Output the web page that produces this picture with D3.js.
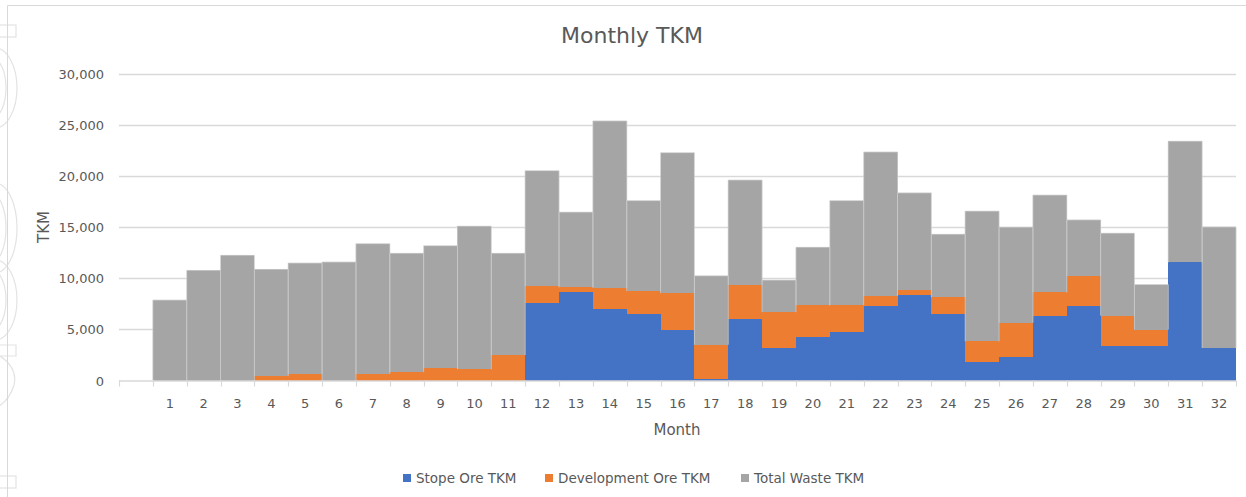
<!DOCTYPE html>
<html>
<head>
<meta charset="utf-8">
<script src="https://cdn.jsdelivr.net/npm/d3@7"></script>
<style>
  html, body { margin: 0; padding: 0; background: #fff; }
  #graphicContainer { width: 1246px; height: 497px; }
  text { font-family: "DejaVu Sans", "Open Sans", sans-serif; fill: #595959; }
</style>
</head>
<body>
<div id="graphicContainer"></div>
<script>
// categories (leading blank slot is empty in the source chart)
const months = ["", "1", "2", "3", "4", "5", "6", "7", "8", "9", "10", "11", "12", "13", "14", "15", "16",
  "17", "18", "19", "20", "21", "22", "23", "24", "25", "26", "27", "28", "29", "30", "31", "32"]

const stopeOre = [0, 0, 0, 0, 0, 0, 0, 0, 0, 0, 0, 0, 7550, 8600, 6960, 6540, 4900,
  100, 5980, 3170, 4280, 4740, 7290, 8400, 6500, 1770, 2260, 6340, 7290, 3330, 3330, 11540, 3170]

const devOre = [0, 0, 0, 0, 430, 650, 0, 650, 820, 1180, 1080, 2480, 1670, 490, 2120, 2190, 3630,
  3400, 3400, 3500, 3070, 2610, 950, 420, 1640, 2050, 3390, 2260, 2940, 3010, 1640, 0, 0]

const totalWaste = [0, 7850, 10750, 12220, 10420, 10820, 11570, 12720, 11600, 11990, 13990, 9940, 11280, 7350, 16280, 8850, 13730,
  6730, 10200, 3130, 5660, 10230, 14080, 9510, 6140, 12720, 9320, 9510, 5460, 8040, 4410, 11830, 11830]

const yTicks = [0, 5000, 10000, 15000, 20000, 25000, 30000]

const seriesKeys = ["Stope Ore TKM", "Development Ore TKM", "Total Waste TKM"]
const seriesColors = ["#4472C4", "#ED7D31", "#A5A5A5"]

const width = 1246
const height = 497
const marginleft = 119
const marginright = 10
const plotTop = 73.5
const plotBottom = 380.5

const svg = d3.select("#graphicContainer").append("svg")
  .attr("width", width)
  .attr("height", height)

// faint watermark shapes on the left edge
const wm = svg.append("g").attr("fill", "none").attr("stroke", "#e3e3e3").attr("stroke-width", 1.2)
wm.append("rect").attr("x", -10).attr("y", 25).attr("width", 26).attr("height", 12)
wm.append("rect").attr("x", -10).attr("y", 476).attr("width", 26).attr("height", 12)
wm.append("ellipse").attr("cx", -5).attr("cy", 88).attr("rx", 22).attr("ry", 40)
wm.append("ellipse").attr("cx", -8).attr("cy", 88).attr("rx", 14).attr("ry", 30)
wm.append("ellipse").attr("cx", -5).attr("cy", 228).attr("rx", 22).attr("ry", 45)
wm.append("ellipse").attr("cx", -8).attr("cy", 228).attr("rx", 14).attr("ry", 34)
wm.append("ellipse").attr("cx", -5).attr("cy", 300).attr("rx", 22).attr("ry", 40)
wm.append("ellipse").attr("cx", -8).attr("cy", 300).attr("rx", 14).attr("ry", 30)
wm.append("path").attr("d", "M-10,345 L16,345 L16,356 L0,356 Q18,368 14,385 Q8,405 -10,410")

// chart frame
svg.append("path")
  .attr("d", `M7.5,${height} L7.5,5.5 L${width},5.5`)
  .attr("fill", "none")
  .attr("stroke", "#d9d9d9")

const x = d3.scaleBand()
  .domain(months)
  .range([marginleft, width - marginright])
  .padding(0)

const y = d3.scaleLinear()
  .domain([0, 30000])
  .range([plotBottom, plotTop])

// gridlines
svg.append("g")
  .selectAll("line")
  .data(yTicks.filter(d => d > 0))
  .enter()
  .append("line")
  .attr("x1", marginleft)
  .attr("x2", width - marginright)
  .attr("y1", d => Math.round(y(d)) + 0.5)
  .attr("y2", d => Math.round(y(d)) + 0.5)
  .attr("stroke", "#d9d9d9")
  .attr("stroke-width", 1.3)

// stacked bars
const rows = months.map((m, i) => ({
  month: m,
  "Stope Ore TKM": stopeOre[i],
  "Development Ore TKM": devOre[i],
  "Total Waste TKM": totalWaste[i]
}))

const stack = d3.stack().keys(seriesKeys)(rows)

svg.append("g")
  .selectAll("g")
  .data(stack)
  .enter()
  .append("g")
  .attr("fill", (d, i) => seriesColors[i])
  .selectAll("rect")
  .data(d => d)
  .enter()
  .append("rect")
  .attr("x", d => x(d.data.month))
  .attr("width", x.bandwidth())
  .attr("y", d => y(d[1]))
  .attr("height", d => y(d[0]) - y(d[1]))
  .attr("shape-rendering", "crispEdges")

// bar outlines (light edges like the source)
svg.append("g")
  .selectAll("path")
  .data(stack[2])
  .enter()
  .append("path")
  .filter(d => d[1] > d[0])
  .attr("d", d => `M${x(d.data.month)},${y(d[0])} V${y(d[1])} H${x(d.data.month) + x.bandwidth()} V${y(d[0])}`)
  .attr("fill", "none")
  .attr("stroke", "#c8c8c8")
  .attr("stroke-width", 0.8)

// x axis line and boundary ticks
svg.append("line")
  .attr("x1", marginleft)
  .attr("x2", width - marginright)
  .attr("y1", plotBottom + 0.5)
  .attr("y2", plotBottom + 0.5)
  .attr("stroke", "#d9d9d9")
  .attr("stroke-width", 1.3)

const bounds = months.map(m => x(m)).concat([x(months[months.length - 1]) + x.bandwidth()])

svg.append("g")
  .selectAll("line")
  .data(bounds)
  .enter()
  .append("line")
  .attr("x1", d => Math.round(d) + 0.5)
  .attr("x2", d => Math.round(d) + 0.5)
  .attr("y1", plotBottom)
  .attr("y2", plotBottom + 6)
  .attr("stroke", "#d9d9d9")
  .attr("stroke-width", 1.2)

// x labels
svg.append("g")
  .selectAll("text")
  .data(months.filter(m => m !== ""))
  .enter()
  .append("text")
  .attr("x", d => x(d) + x.bandwidth() / 2)
  .attr("y", 408)
  .attr("text-anchor", "middle")
  .style("font-size", "13px")
  .text(d => d)

// y labels
svg.append("g")
  .selectAll("text")
  .data(yTicks)
  .enter()
  .append("text")
  .attr("x", 104)
  .attr("y", d => y(d) + 5)
  .attr("text-anchor", "end")
  .style("font-size", "13px")
  .text(d => d3.format(",")(d))

// titles
svg.append("text")
  .attr("x", 632)
  .attr("y", 43)
  .attr("text-anchor", "middle")
  .style("font-size", "22px")
  .text("Monthly TKM")

svg.append("text")
  .attr("x", 677)
  .attr("y", 435)
  .attr("text-anchor", "middle")
  .style("font-size", "15px")
  .text("Month")

svg.append("text")
  .attr("transform", "translate(49,227) rotate(-90)")
  .attr("text-anchor", "middle")
  .style("font-size", "15px")
  .text("TKM")

// legend
const legendX = [403, 545, 741]
const legend = svg.append("g")
  .selectAll("g")
  .data(seriesKeys)
  .enter()
  .append("g")
  .attr("transform", (d, i) => `translate(${legendX[i]}, 478)`)

legend.append("rect")
  .attr("x", 0)
  .attr("y", -4)
  .attr("width", 8)
  .attr("height", 8)
  .attr("fill", (d, i) => seriesColors[i])

legend.append("text")
  .attr("x", 13)
  .attr("y", 5)
  .style("font-size", "13.5px")
  .text(d => d)
</script>
</body>
</html>
